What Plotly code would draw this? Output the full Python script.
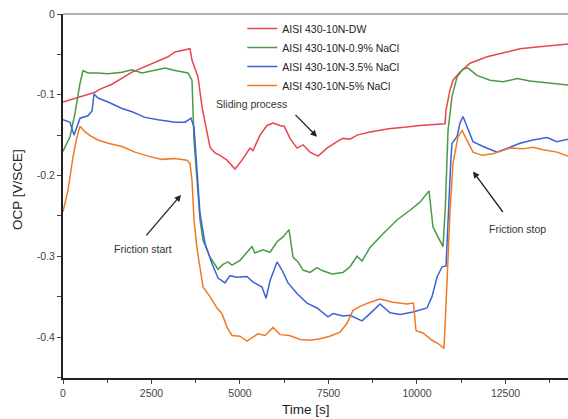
import plotly.graph_objects as go

# ---- data ----
dw_t = [0, 141, 904, 1045, 1384, 1950, 2514, 2966, 3164, 3588, 3644, 3814, 3927, 4068, 4153, 4294,
        4435, 4633, 4859, 5057, 5283, 5368, 5565, 5763, 5933, 6130, 6250, 6413, 6611, 6780, 6978, 7204,
        7458, 7740, 7910, 8108, 8306, 8673, 9200, 9700, 10085, 10792, 10820, 10933, 11018, 11215,
        11498, 11978, 12430, 12910, 13390, 14266]
dw_v = [-0.109, -0.107, -0.097, -0.093, -0.087, -0.072, -0.061, -0.053, -0.047, -0.043, -0.057, -0.078,
        -0.115, -0.147, -0.165, -0.172, -0.175, -0.181, -0.192, -0.181, -0.166, -0.169, -0.150, -0.138,
        -0.135, -0.138, -0.139, -0.154, -0.166, -0.162, -0.171, -0.176, -0.166, -0.158, -0.154, -0.155,
        -0.150, -0.146, -0.142, -0.140, -0.138, -0.136, -0.119, -0.094, -0.082, -0.072, -0.061, -0.053,
        -0.048, -0.043, -0.041, -0.037]

n09_t = [0, 198, 339, 480, 565, 620, 706, 989, 1271, 1667, 1950, 2232, 2514, 2882, 3164, 3531, 3644,
         3701, 3870, 3955, 4153, 4379, 4520, 4661, 4774, 5000, 5198, 5339, 5424, 5650, 5848, 6046, 6215,
         6385, 6498, 6639, 6780, 6978, 7176, 7340, 7599, 7910, 8108, 8306, 8447, 8673, 9040, 9436, 9803,
         10085, 10340, 10453, 10594, 10735, 10800, 10877, 10990, 11131, 11300, 11441, 11695, 12063,
         12430, 12826, 13193, 13673, 14266]
n09_v = [-0.170, -0.152, -0.123, -0.086, -0.070, -0.071, -0.073, -0.073, -0.074, -0.072, -0.069, -0.073,
         -0.070, -0.067, -0.070, -0.073, -0.082, -0.156, -0.255, -0.280, -0.301, -0.316, -0.310, -0.307,
         -0.311, -0.305, -0.295, -0.288, -0.296, -0.292, -0.295, -0.282, -0.276, -0.267, -0.301, -0.307,
         -0.317, -0.320, -0.314, -0.318, -0.322, -0.320, -0.313, -0.300, -0.306, -0.289, -0.272, -0.255,
         -0.243, -0.233, -0.219, -0.264, -0.276, -0.288, -0.240, -0.144, -0.102, -0.078, -0.068, -0.067,
         -0.076, -0.082, -0.084, -0.080, -0.083, -0.085, -0.088]

n35_t = [0, 198, 311, 396, 480, 706, 820, 876, 989, 1271, 1667, 1950, 2317, 2684, 3164, 3450, 3616,
         3701, 3814, 3870, 4012, 4209, 4379, 4577, 4718, 4900, 5198, 5368, 5622, 5735, 5850, 6046, 6187,
         6356, 6611, 6893, 7176, 7486, 7627, 7910, 8108, 8447, 8673, 8955, 9238, 9520, 9888, 10283,
         10424, 10566, 10707, 10820, 10960, 10990, 11131, 11215, 11300, 11413, 11582, 11865, 12261,
         12628, 12910, 13278, 13673, 13956, 14266]
n35_v = [-0.131, -0.134, -0.150, -0.140, -0.129, -0.126, -0.120, -0.099, -0.104, -0.109, -0.117, -0.121,
         -0.128, -0.131, -0.134, -0.134, -0.129, -0.140, -0.206, -0.247, -0.284, -0.309, -0.327, -0.333,
         -0.324, -0.326, -0.325, -0.332, -0.338, -0.352, -0.330, -0.307, -0.317, -0.333, -0.346, -0.358,
         -0.364, -0.375, -0.371, -0.374, -0.373, -0.380, -0.371, -0.359, -0.370, -0.372, -0.369, -0.364,
         -0.350, -0.326, -0.313, -0.312, -0.177, -0.160, -0.152, -0.135, -0.127, -0.140, -0.158, -0.164,
         -0.171, -0.165, -0.160, -0.156, -0.153, -0.158, -0.155]

n5_t = [0, 141, 283, 396, 480, 622, 819, 989, 1271, 1667, 2034, 2401, 2797, 3164, 3503, 3588, 3644,
        3701, 3785, 3870, 3955, 4153, 4351, 4492, 4633, 4774, 5000, 5198, 5509, 5707, 5933, 6130, 6400,
        6695, 6978, 7260, 7543, 7825, 8023, 8193, 8390, 8673, 8955, 9322, 9718, 9900, 9972, 10170, 10424,
        10594, 10763, 10850, 10933, 11018, 11159, 11272, 11413, 11582, 11837, 12148, 12628, 12995,
        13278, 13560, 13956, 14266]
n5_v = [-0.245, -0.218, -0.177, -0.152, -0.139, -0.146, -0.152, -0.156, -0.160, -0.164, -0.171, -0.176,
        -0.180, -0.179, -0.181, -0.185, -0.206, -0.255, -0.290, -0.315, -0.338, -0.350, -0.364, -0.371,
        -0.388, -0.398, -0.399, -0.405, -0.396, -0.398, -0.388, -0.397, -0.398, -0.403, -0.404, -0.402,
        -0.399, -0.394, -0.383, -0.367, -0.362, -0.357, -0.353, -0.357, -0.359, -0.358, -0.392, -0.395,
        -0.404, -0.408, -0.414, -0.330, -0.243, -0.185, -0.152, -0.144, -0.156, -0.171, -0.175, -0.173,
        -0.166, -0.167, -0.165, -0.168, -0.171, -0.176]

series_names = ["AISI 430-10N-DW", "AISI 430-10N-0.9% NaCl",
                "AISI 430-10N-3.5% NaCl", "AISI 430-10N-5% NaCl"]
y_ticks = [0, -0.1, -0.2, -0.3, -0.4]
y_tick_labels = ["0", "-0.1", "-0.2", "-0.3", "-0.4"]
x_ticks = [0, 2500, 5000, 7500, 10000, 12500]
x_tick_labels = ["0", "2500", "5000", "7500", "10000", "12500"]

colors = ["#e8454d", "#4a9a45", "#3c62db", "#f07a22"]

fig = go.Figure()
for t, v, name, c in zip([dw_t, n09_t, n35_t, n5_t], [dw_v, n09_v, n35_v, n5_v], series_names, colors):
    fig.add_trace(go.Scatter(x=t, y=v, mode="lines", name=name,
                             line=dict(color=c, width=1.5)))

FONT = "Liberation Sans, Arial, sans-serif"

fig.update_layout(
    width=568, height=419,
    margin=dict(l=63, r=0, t=14, b=41),
    paper_bgcolor="white", plot_bgcolor="white",
    font=dict(family=FONT, color="#333333", size=11),
    showlegend=True,
    legend=dict(x=0.355, y=1.0, xanchor="left", yanchor="top",
                bgcolor="rgba(0,0,0,0)", font=dict(size=10.5, color="#222222"),
                itemwidth=30, tracegroupgap=0),
    xaxis=dict(range=[0, 14266], showgrid=False, zeroline=False, automargin=False,
               showline=True, linecolor="#222222", linewidth=2,
               ticks="outside", ticklen=4, tickcolor="#444444",
               tickvals=x_ticks, ticktext=x_tick_labels,
               tickfont=dict(size=10.5, color="#444444"),
               minor=dict(dtick=1250, ticks="outside", ticklen=3, tickcolor="#444444")),
    yaxis=dict(range=[-0.4507, 0], showgrid=False, zeroline=False, automargin=False,
               showline=True, linecolor="#222222", linewidth=2,
               ticks="outside", ticklen=4, tickcolor="#444444",
               tickvals=y_ticks, ticktext=y_tick_labels,
               tickfont=dict(size=10.5, color="#444444"),
               minor=dict(dtick=0.05, ticks="outside", ticklen=4, tickcolor="#444444")),
)

# axis titles as text placed like the reference
fig.add_annotation(x=(306 - 63) / 505, y=-(410 - 378) / 364, xref="paper", yref="paper",
                   text="Time [s]", showarrow=False, xanchor="center", yanchor="middle",
                   font=dict(size=13.5, color="#222222", family=FONT))
fig.add_annotation(x=-(63 - 18) / 505, y=0.5 + (196 - 190) / 364, xref="paper", yref="paper",
                   text="OCP [V/SCE]", textangle=-90, showarrow=False,
                   xanchor="center", yanchor="middle",
                   font=dict(size=13.5, color="#222222", family=FONT))

# top frame line
fig.add_shape(type="line", xref="paper", yref="paper", x0=0, x1=1, y0=1, y1=1,
              line=dict(color="#999999", width=1.5))

ann_font = dict(size=10.5, color="#333333", family=FONT)
# Sliding process
fig.add_annotation(x=5339, y=-0.1115, text="Sliding process", showarrow=False, font=ann_font)
fig.add_annotation(x=7176, y=-0.152, ax=6526, ay=-0.123, axref="x", ayref="y",
                   text="", showarrow=True, arrowhead=2, arrowsize=1, arrowwidth=1.3, arrowcolor="#222222")
# Friction start
fig.add_annotation(x=2260, y=-0.291, text="Friction start", showarrow=False, font=ann_font)
fig.add_annotation(x=3334, y=-0.224, ax=2317, ay=-0.276, axref="x", ayref="y",
                   text="", showarrow=True, arrowhead=2, arrowsize=1, arrowwidth=1.3, arrowcolor="#222222")
# Friction stop
fig.add_annotation(x=12826, y=-0.266, text="Friction stop", showarrow=False, font=ann_font)
fig.add_annotation(x=11583, y=-0.195, ax=12458, ay=-0.247, axref="x", ayref="y",
                   text="", showarrow=True, arrowhead=2, arrowsize=1, arrowwidth=1.3, arrowcolor="#222222")

fig.write_html("out.html", config={"displayModeBar": False},
               post_script="document.body.style.margin='0';document.body.style.overflow='hidden';")
